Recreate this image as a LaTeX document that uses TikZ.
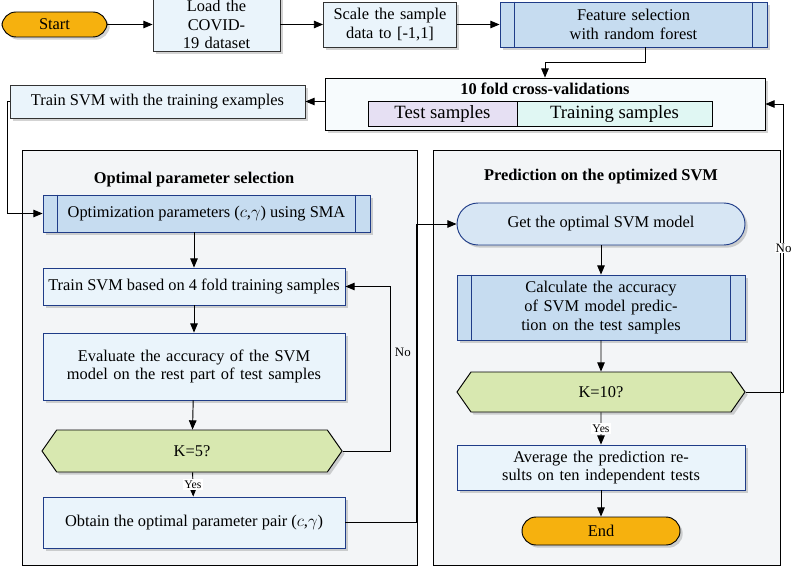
\documentclass[tikz,border=0pt]{standalone}
\usepackage{fontspec}
\setmainfont{Liberation Serif}
\usetikzlibrary{shapes.geometric, shapes.symbols, arrows, shadows}
\definecolor{boxfill}{HTML}{EAF4FB}
\definecolor{boxline}{HTML}{1F3C88}
\definecolor{subfill}{HTML}{C6DCF0}
\definecolor{panelfill}{HTML}{F3F5F7}
\definecolor{orangefill}{HTML}{F6B10E}
\definecolor{hexfill}{HTML}{D8E8B0}
\definecolor{testfill}{HTML}{E6E0F3}
\definecolor{trainfill}{HTML}{E0F7F3}
\tikzstyle{startstop} = [rectangle, rounded corners=12pt, text centered, draw=black, fill=orangefill, thick, drop shadow={opacity=0.35}]
\tikzstyle{process} = [rectangle, text centered, draw=boxline, fill=boxfill, thick, drop shadow={opacity=0.35}, inner sep=2pt]
\tikzstyle{plain} = [rectangle, text centered, draw=black!80, fill=boxfill, thick, drop shadow={opacity=0.35}, inner sep=2pt]
\tikzstyle{subproc} = [rectangle, text centered, draw=boxline, fill=subfill, thick, drop shadow={opacity=0.35}, inner sep=2pt]
\tikzstyle{decision} = [signal, signal to=west and east, signal pointer angle=110, text centered, draw=black, fill=hexfill, thick, drop shadow={opacity=0.35}, inner sep=0pt]
\tikzstyle{panel} = [rectangle, draw=black, fill=panelfill, thick]
\tikzstyle{arrow} = [thick,->,>=triangle 45]
\tikzstyle{yes} = [fill=white, inner sep=1pt, font=\fontsize{10}{11}\selectfont]

\begin{document}
\begin{tikzpicture}[x=0.03cm, y=-0.03cm, font=\fontsize{14}{16}\selectfont]
  \useasboundingbox (0,0) rectangle (792,567);

  % panels
  \node (panelL) [panel, minimum width=11.85cm, minimum height=12.45cm] at (219.5,357.5) {};
  \node (panelR) [panel, minimum width=10.41cm, minimum height=12.45cm] at (606.5,357.5) {};
  \node (titleL) at (194,180) {\textbf{Optimal parameter selection}};
  \node (titleR) at (601,177) {\textbf{Prediction on the optimized SVM}};

  % top row
  \node (start) [startstop, minimum width=3.15cm, minimum height=0.75cm] at (54.5,24.5) {Start};
  \node (load) [plain, minimum width=3.81cm, minimum height=1.35cm, text width=3.6cm] at (216.5,24.5) {Load the COVID-19 dataset};
  \node (scale) [plain, minimum width=3.9cm, minimum height=1.35cm, text width=3.85cm] at (390,24.5) {Scale the sample data to [-1,1]};
  \node (feat) [subproc, minimum width=8.01cm, minimum height=1.35cm, text width=6.8cm] at (633.5,24.5) {Feature selection with random forest};
  \draw [boxline, thick] ([xshift=0.45cm]feat.north west) -- ([xshift=0.45cm]feat.south west);
  \draw [boxline, thick] ([xshift=-0.45cm]feat.north east) -- ([xshift=-0.45cm]feat.south east);

  % cross validation
  \node (cv) [rectangle, draw=black, fill=boxfill!40, thick, drop shadow={opacity=0.35}, minimum width=13.2cm, minimum height=1.56cm] at (545,104) {};
  \node (cvtitle) at (545,89) {\textbf{10 fold cross-validations}};
  \node (test) [rectangle, draw=black, fill=testfill, minimum width=4.47cm, minimum height=0.66cm, font=\fontsize{16}{17}\selectfont] at (442.5,114) {Test samples};
  \node (train) [rectangle, draw=black, fill=trainfill, minimum width=5.85cm, minimum height=0.66cm, font=\fontsize{16}{17}\selectfont] at (614.5,114) {Training samples};
  \node (trainsvm) [plain, minimum width=8.85cm, minimum height=0.99cm] at (157.5,101.5) {Train SVM with the training examples};

  % left panel
  \node (opt) [subproc, minimum width=9.81cm, minimum height=1.11cm] at (206.5,213.5) {Optimization parameters ($c$,$\gamma$) using SMA};
  \draw [boxline, thick] ([xshift=0.45cm]opt.north west) -- ([xshift=0.45cm]opt.south west);
  \draw [boxline, thick] ([xshift=-0.45cm]opt.north east) -- ([xshift=-0.45cm]opt.south east);
  \node (tr4) [process, minimum width=9.06cm, minimum height=1.11cm] at (194,286.5) {Train SVM based on 4 fold training samples};
  \node (eval) [process, minimum width=9.06cm, minimum height=2.01cm, text width=8.8cm] at (194,366.5) {Evaluate the accuracy of the SVM model on the rest part of test samples};
  \node (k5) [decision, minimum width=9.0cm, minimum height=1.26cm] at (192,451) {K=5?};
  \node (obtain) [process, minimum width=9.06cm, minimum height=1.53cm] at (194,522.5) {Obtain the optimal parameter pair ($c$,$\gamma$)};

  % right panel
  \node (getopt) [subproc, rounded corners=18pt, fill=subfill!70, minimum width=8.64cm, minimum height=1.26cm] at (601,224) {Get the optimal SVM model};
  \node (calc) [subproc, minimum width=8.64cm, minimum height=1.95cm, text width=7.4cm] at (601,307.5) {Calculate the accuracy of SVM model prediction on the test samples};
  \draw [boxline, thick] ([xshift=0.45cm]calc.north west) -- ([xshift=0.45cm]calc.south west);
  \draw [boxline, thick] ([xshift=-0.45cm]calc.north east) -- ([xshift=-0.45cm]calc.south east);
  \node (k10) [decision, minimum width=8.64cm, minimum height=1.2cm] at (601,392) {K=10?};
  \node (avg) [process, minimum width=8.64cm, minimum height=1.35cm, text width=8.3cm] at (601,467.5) {Average the prediction results on ten independent tests};
  \node (end) [startstop, rounded corners=12pt, minimum width=4.74cm, minimum height=0.84cm] at (601,531) {End};

  % connectors
  \draw [arrow] (start) -- (load);
  \draw [arrow] (load) -- (scale);
  \draw [arrow] (scale) -- (feat);
  \draw [arrow] ([xshift=0.35cm]feat.south) -- ++(0,15) -| (cv.north);
  \draw [arrow] (cv.west |- trainsvm.east) -- (trainsvm.east);
  \draw [arrow] (trainsvm.west) -- ++(-2,0) |- (opt.west);

  \draw [arrow] (opt.south -| tr4.north) -- (tr4);
  \draw [arrow] (tr4) -- (eval);
  \draw [arrow] (eval) -- (k5);
  \draw [arrow] (k5) -- node[yes] {Yes} (obtain);
  \draw [arrow] (k5.east) -- ++(48,0) |- node[pos=0.3, right, font=\fontsize{11}{12}\selectfont] {No} (tr4.east);
  \draw [arrow] (obtain.east) -- ++(71,0) |- (getopt.west);

  \draw [arrow] (getopt) -- (calc);
  \draw [arrow] (calc) -- (k10);
  \draw [arrow] (k10) -- node[yes] {Yes} (avg);
  \draw [arrow] (avg) -- (end);
  \draw [arrow] (k10.east) -- ++(38,0) |- node[pos=0.25, fill=panelfill!0, inner sep=1pt, font=\fontsize{11}{12}\selectfont] {No} (cv.east);
\end{tikzpicture}
\end{document}
